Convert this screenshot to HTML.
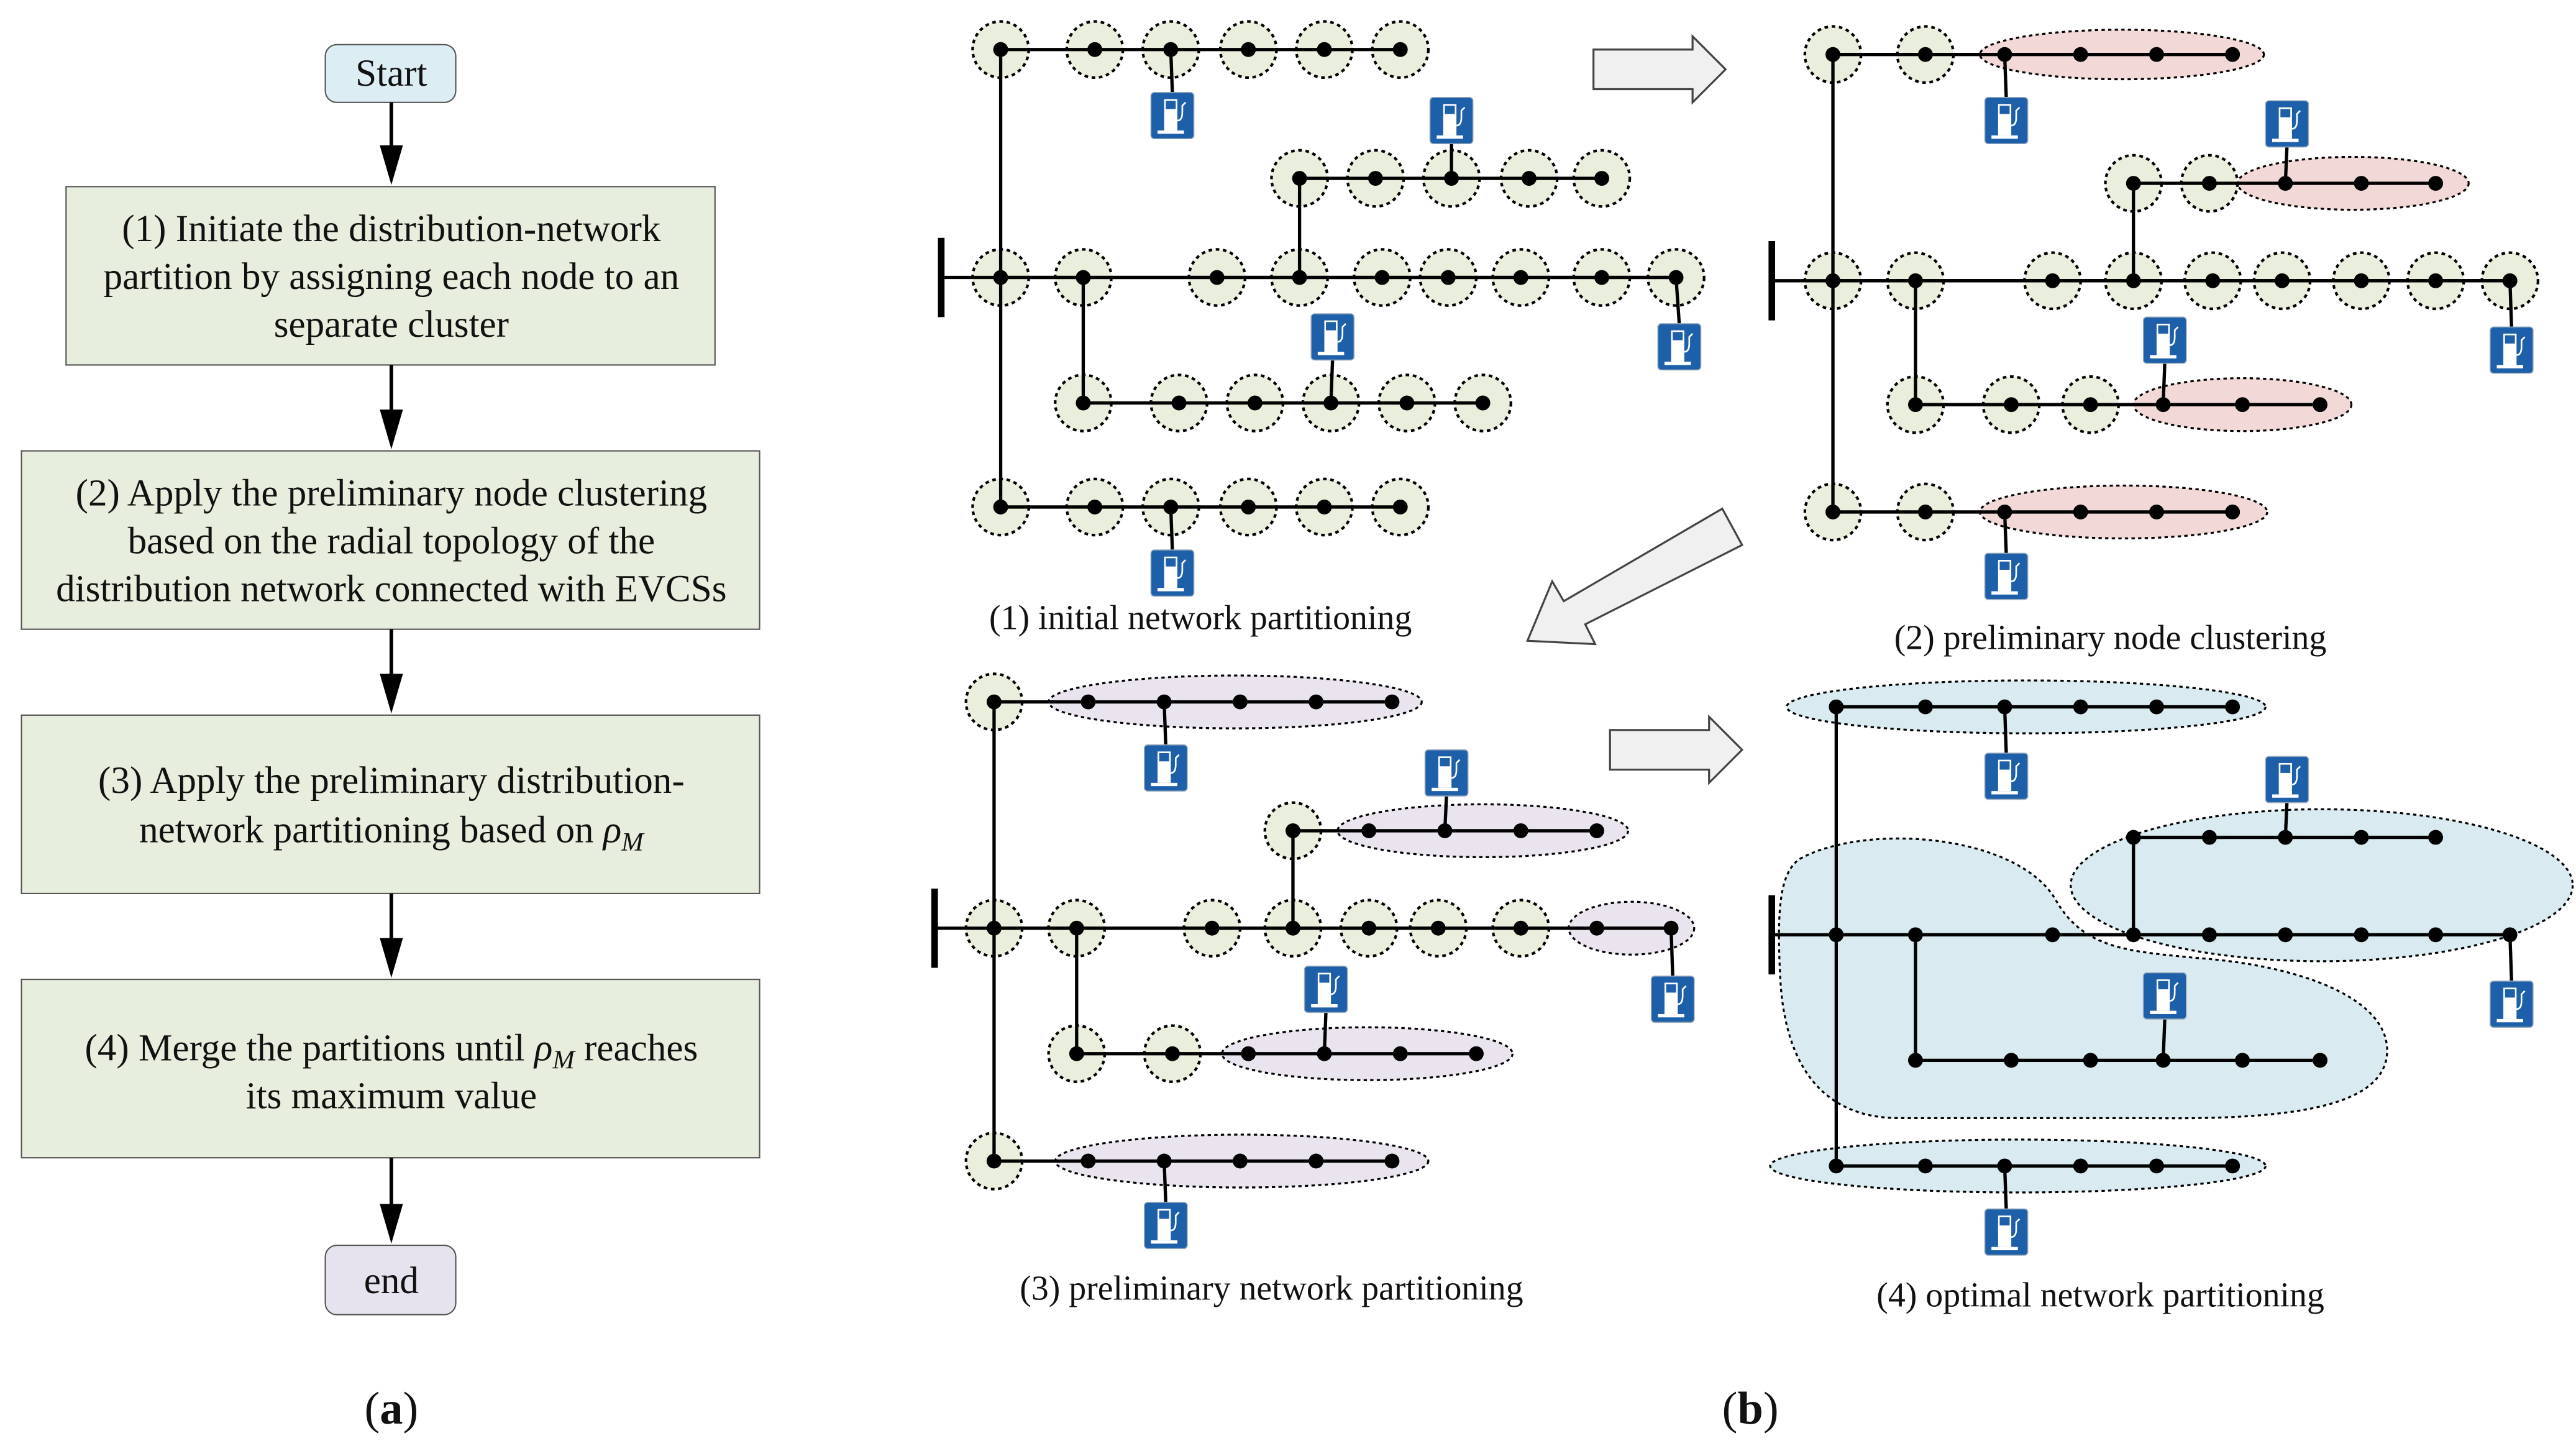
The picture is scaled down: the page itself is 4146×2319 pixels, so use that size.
<!DOCTYPE html>
<html><head><meta charset="utf-8"><style>html,body{margin:0;padding:0;background:#fff}svg{display:block}</style></head>
<body>
<svg id="s" xmlns="http://www.w3.org/2000/svg" width="4146" height="2319" viewBox="0 0 1560 872.5" preserveAspectRatio="none" font-family="'Liberation Serif',serif">
<path d="M1090,520 C1130,498 1222,505 1245,545 C1262,575 1290,576 1330,580 C1400,585 1452,608 1445,642 C1438,672 1380,678 1300,677 L1150,677 C1100,677 1080,640 1078,590 C1076,550 1078,528 1090,520 Z" fill="#d9ebf1" stroke="#000" stroke-width="1.2" stroke-dasharray="2,2"/>
<g id="bg"></g><g id="ln"></g><g id="nd"></g><g id="ic"></g>
<!-- flowchart -->
<g stroke="#555" stroke-width="0.8">
<rect x="197" y="27" width="79" height="35" rx="7" fill="#dcedf4"/>
<rect x="40" y="113" width="393" height="108" fill="#e8eedd"/>
<rect x="13" y="273" width="447" height="108" fill="#e8eedd"/>
<rect x="13" y="433" width="447" height="108" fill="#e8eedd"/>
<rect x="13" y="593" width="447" height="108" fill="#e8eedd"/>
<rect x="197" y="754" width="79" height="42" rx="7" fill="#e6e3ef"/>
</g>
<g stroke="#000" stroke-width="2.2">
<line x1="237" y1="62" x2="237" y2="90"/><path d="M230,88 L244,88 L237,112 Z" fill="#000" stroke="none"/>
<line x1="237" y1="221" x2="237" y2="250"/><path d="M230,248 L244,248 L237,272 Z" fill="#000" stroke="none"/>
<line x1="237" y1="381" x2="237" y2="410"/><path d="M230,408 L244,408 L237,432 Z" fill="#000" stroke="none"/>
<line x1="237" y1="541" x2="237" y2="570"/><path d="M230,568 L244,568 L237,592 Z" fill="#000" stroke="none"/>
<line x1="237" y1="701" x2="237" y2="731"/><path d="M230,729 L244,729 L237,753 Z" fill="#000" stroke="none"/>
</g>
<g font-size="23" text-anchor="middle" fill="#111">
<text x="237" y="52">Start</text>
<text x="237" y="146">(1) Initiate the distribution-network</text>
<text x="237" y="175">partition by assigning each node to an</text>
<text x="237" y="204">separate cluster</text>
<text x="237" y="306">(2) Apply the preliminary node clustering</text>
<text x="237" y="335">based on the radial topology of the</text>
<text x="237" y="364">distribution network connected with EVCSs</text>
<text x="237" y="480">(3) Apply the preliminary distribution-</text>
<text x="237" y="510">network partitioning based on  <tspan font-style="italic">ρ</tspan><tspan font-style="italic" font-size="16" dy="5">M</tspan></text>
<text x="237" y="642">(4) Merge the partitions until  <tspan font-style="italic">ρ</tspan><tspan font-style="italic" font-size="16" dy="5">M</tspan><tspan dy="-5"> reaches</tspan></text>
<text x="237" y="671">its maximum value</text>
<text x="237" y="783">end</text>
<text x="237" y="862" font-size="28">(<tspan font-weight="bold">a</tspan>)</text>
<text x="1060" y="862" font-size="28">(<tspan font-weight="bold">b</tspan>)</text>
</g>
<g font-size="21" text-anchor="middle" fill="#111">
<text x="727" y="381">(1) initial network partitioning</text>
<text x="1278" y="393">(2) preliminary node clustering</text>
<text x="770" y="787">(3) preliminary network partitioning</text>
<text x="1272" y="791">(4) optimal network partitioning</text>
</g>
<g fill="#f0f0f0" stroke="#444" stroke-width="1.2">
<path d="M965,30 L1025,30 L1025,22 L1045,42 L1025,62 L1025,54 L965,54 Z"/>
<path d="M975,442 L1035,442 L1035,434 L1055,454 L1035,474 L1035,466 L975,466 Z"/>
<path d="M1043,308 L1055,330 L960,378 L966,390 L925,388 L940,352 L947,364 Z"/>
</g>
</svg>
<script>
var NS="http://www.w3.org/2000/svg";
function el(g,t,a){var e=document.createElementNS(NS,t);for(var k in a)e.setAttribute(k,a[k]);document.getElementById(g).appendChild(e);return e;}
function C(x,y){el("bg","circle",{cx:x,cy:y,r:17,fill:"#e9efdc",stroke:"#000","stroke-width":1.6,"stroke-dasharray":"2.2,2.2"});}
function E(cx,cy,rx,ry,f){el("bg","ellipse",{cx:cx,cy:cy,rx:rx,ry:ry,fill:f,stroke:"#000","stroke-width":1.2,"stroke-dasharray":"2,2"});}
function L(x1,y1,x2,y2){el("ln","line",{x1:x1,y1:y1,x2:x2,y2:y2,stroke:"#000","stroke-width":2});}
function N(x,y){el("nd","circle",{cx:x,cy:y,r:4.5,fill:"#000"});}
function B(x,y){el("ln","line",{x1:x,y1:y-24,x2:x,y2:y+24,stroke:"#000","stroke-width":4});}
function I(x,y,nx,ny){L(x,y<ny?y+13:y-13,nx,ny);
 el("ic","rect",{x:x-13,y:y-14,width:26,height:28,rx:2,fill:"#1d5fa8",stroke:"#9ab",'stroke-width':0.6});
 el("ic","rect",{x:x-5,y:y-10,width:8,height:19,fill:"#fff"});
 el("ic","rect",{x:x-4,y:y-9,width:6,height:5,fill:"#1d5fa8"});
 el("ic","rect",{x:x-9,y:y+9,width:16,height:2,fill:"#fff"});
 el("ic","path",{d:"M"+(x+3)+","+(y+3)+" q3,0 3,-5 l0,-4 l2,-2",stroke:"#fff",fill:"none","stroke-width":1});}
function row(y,xs,circ){L(xs[0],y,xs[xs.length-1],y);xs.forEach(function(x,i){if(circ===true||(circ&&circ.indexOf(i)>=0))C(x,y);N(x,y);});}
// Panel 1
B(570,168);L(570,168,1015,168);L(606,30,606,307);L(787,108,787,168);L(656,168,656,244);
row(30,[606,663,709,756,802,848],true);row(108,[787,833,879,926,970],true);
row(168,[606,656,737,787,837,877,921,970,1015],true);row(244,[656,714,760,806,852,898],true);
row(307,[606,663,709,756,802,848],true);
I(710,70,709,30);I(879,73,879,108);I(807,204,806,244);I(1017,210,1015,168);I(710,347,709,307);
// Panel 2
B(1073,170);L(1073,170,1520,170);L(1110,33,1110,310);L(1292,111,1292,170);L(1160,170,1160,245);
E(1285,33,86,15,"#f2d9d7");E(1425,111,70,16,"#f2d9d7");E(1358,245,66,16,"#f2d9d7");E(1286,310,87,16,"#f2d9d7");
row(33,[1110,1166,1214,1260,1306,1352],[0,1]);row(111,[1292,1338,1384,1430,1475],[0,1]);
row(170,[1110,1160,1243,1292,1340,1382,1430,1475,1520],true);row(245,[1160,1218,1266,1310,1358,1405],[0,1,2]);
row(310,[1110,1166,1214,1260,1306,1352],[0,1]);
I(1215,73,1214,33);I(1385,75,1384,111);I(1311,206,1310,245);I(1521,212,1520,170);I(1215,349,1214,310);
// Panel 3
B(566,562);L(566,562,1012,562);L(602,425,602,703);L(783,503,783,562);L(652,562,652,638);
E(748,425,113,16,"#e9e4ee");E(898,503,88,16,"#e9e4ee");E(988,562,38,16,"#e9e4ee");E(828,638,88,16,"#e9e4ee");E(752,703,113,16,"#e9e4ee");
row(425,[602,659,705,751,797,843],[0]);row(503,[783,829,875,921,967],[0]);
row(562,[602,652,734,783,829,871,921,967,1012],[0,1,2,3,4,5,6]);row(638,[652,710,756,802,848,894],[0,1]);
row(703,[602,659,705,751,797,843],[0]);
I(706,465,705,425);I(876,468,875,503);I(803,599,802,638);I(1013,605,1012,562);I(706,742,705,703);
// Panel 4
E(1227,428,145,16,"#d9ebf1");E(1406,536,152,46,"#d9ebf1");E(1222,706,150,16,"#d9ebf1");
B(1073,566);L(1073,566,1520,566);L(1112,428,1112,706);L(1292,507,1292,566);L(1160,566,1160,642);
row(428,[1112,1166,1214,1260,1306,1352]);row(507,[1292,1338,1384,1430,1475]);
row(566,[1112,1160,1243,1292,1338,1384,1430,1475,1520]);row(642,[1160,1218,1266,1310,1358,1405]);
row(706,[1112,1166,1214,1260,1306,1352]);
I(1215,470,1214,428);I(1385,472,1384,507);I(1311,603,1310,642);I(1521,608,1520,566);I(1215,746,1214,706);
</script>
</body></html>
